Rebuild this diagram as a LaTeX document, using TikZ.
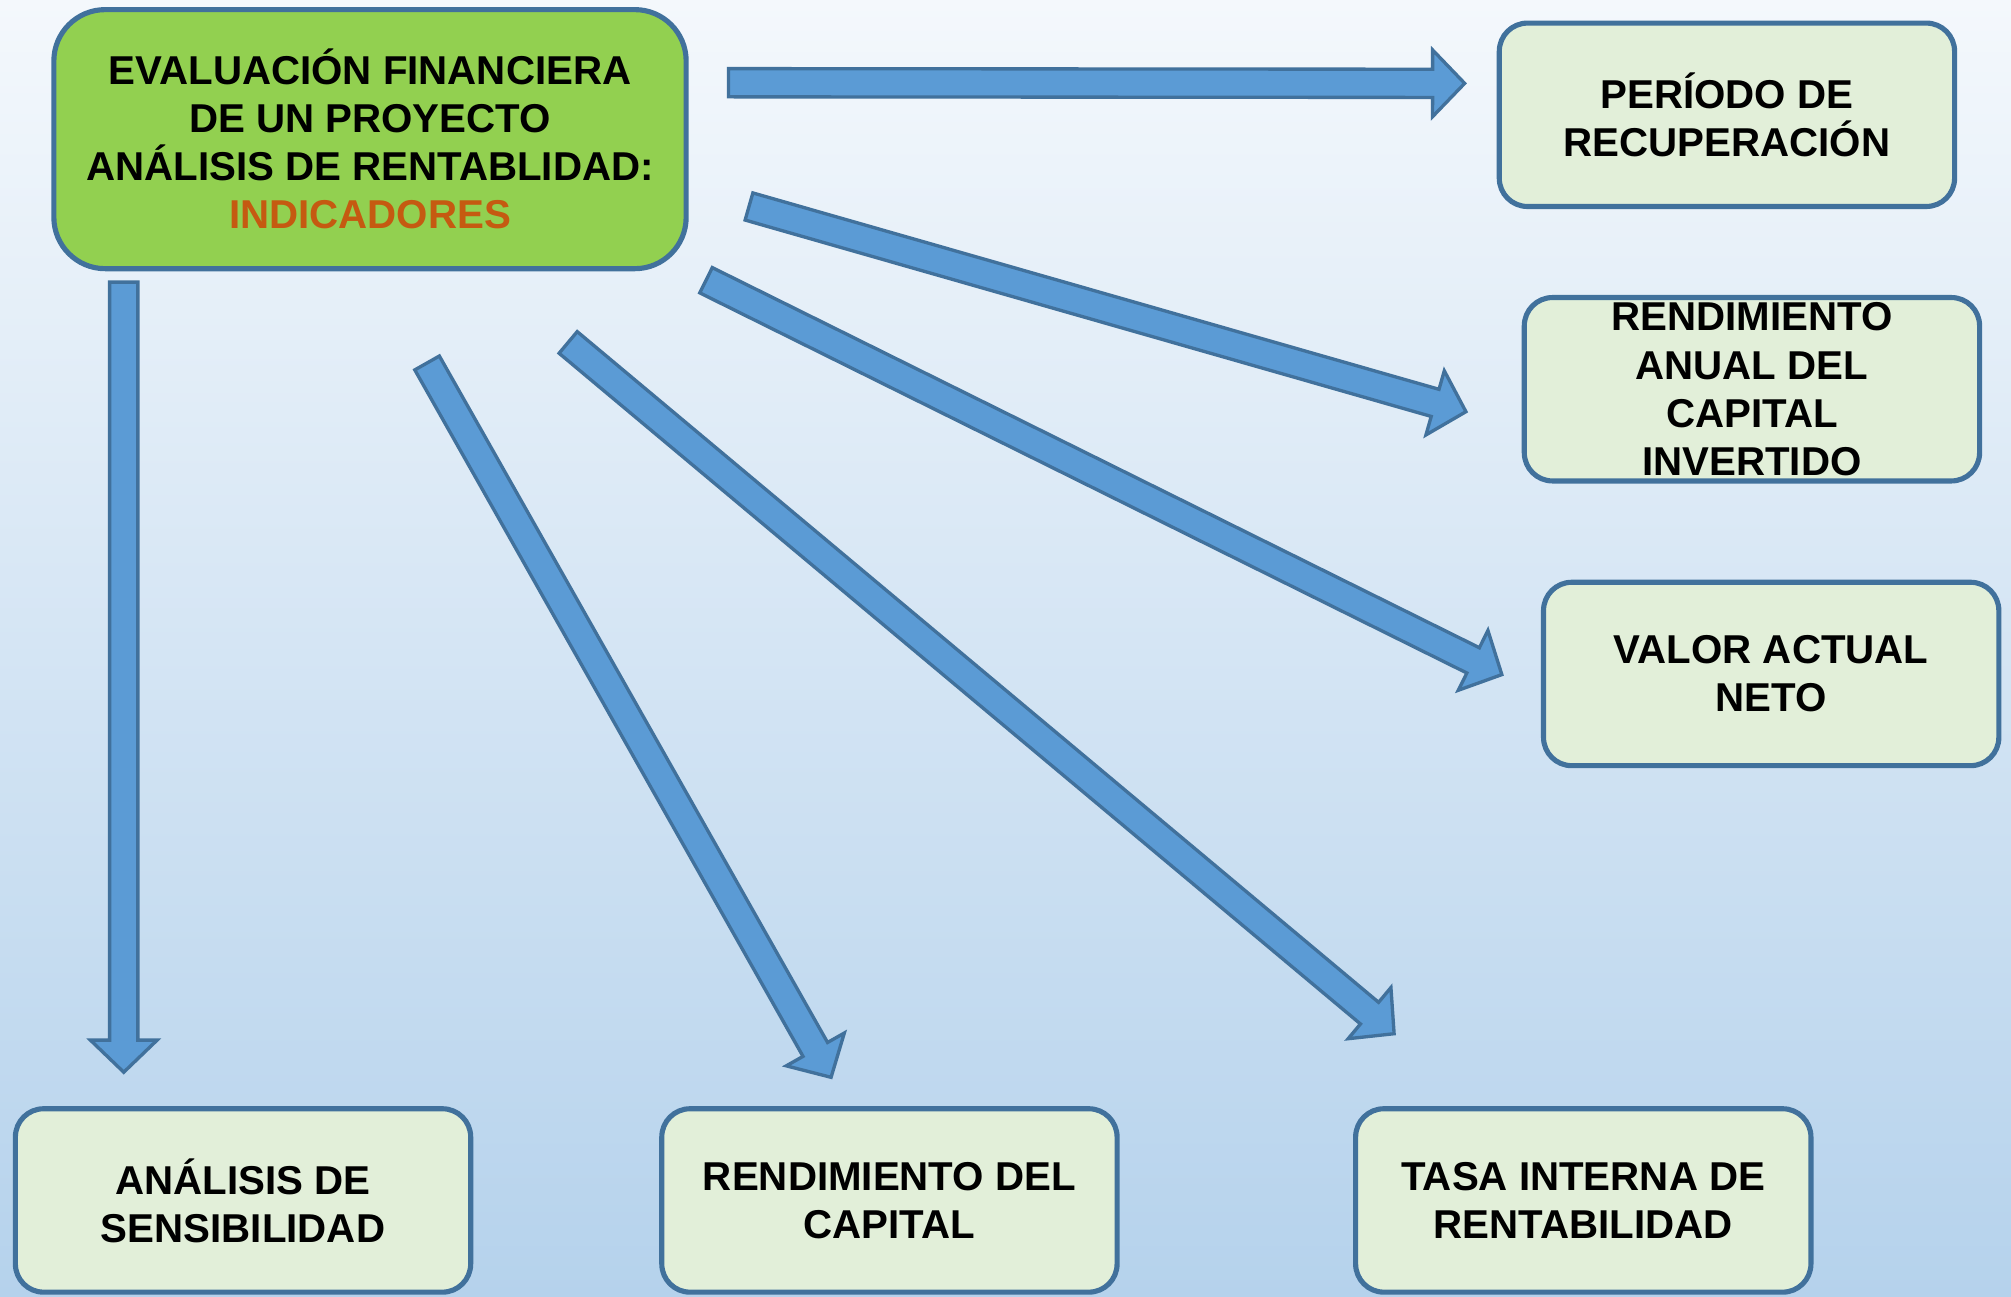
\documentclass[tikz,border=0pt]{standalone}
\usepackage{fontspec}
\setmainfont{Liberation Sans}
\usetikzlibrary{calc}
\definecolor{bgtop}{HTML}{F4F8FC}
\definecolor{bgbot}{HTML}{B5D2EC}
\definecolor{maingreen}{HTML}{92D050}
\definecolor{leafgreen}{HTML}{E2EFD9}
\definecolor{bordc}{HTML}{41719C}
\definecolor{arrfill}{HTML}{5B9BD5}
\definecolor{indic}{HTML}{C55A11}
\tikzset{
  boxtext/.style={font=\fontsize{31.4}{37.5}\selectfont\bfseries, text=black, align=center},
  mainbox/.style={boxtext, draw=bordc, fill=maingreen, line width=4pt, rounded corners=40pt,
    minimum width=493pt, minimum height=202pt, inner sep=0pt},
  leafbox/.style={boxtext, draw=bordc, fill=leafgreen, line width=4pt, rounded corners=22pt,
    minimum width=355pt, minimum height=143pt, inner sep=0pt},
  blkarrow/.style={draw=bordc, fill=arrfill, line width=2.6pt, line join=miter},
}
\newcommand\blkarrow[2]{%
  \coordinate (ba-c) at ($(#2)!25pt!(#1)$);
  \filldraw[blkarrow] ($(#1)!11pt!90:(#2)$) -- ($(ba-c)!11pt!-90:(#1)$) -- ($(ba-c)!26pt!-90:(#1)$)
    -- (#2) -- ($(ba-c)!26pt!90:(#1)$) -- ($(ba-c)!11pt!90:(#1)$) -- ($(#1)!11pt!-90:(#2)$) -- cycle;}
\begin{document}
\begin{tikzpicture}[x=1pt,y=-1pt]
  \useasboundingbox (0,0) rectangle (1568,1011);
  \shade[top color=bgtop, bottom color=bgbot] (0,0) rectangle (1568,1011);

  \node[mainbox] (main) at (288.5,108.5) {EVALUACIÓN FINANCIERA\\DE UN PROYECTO\\ANÁLISIS DE RENTABLIDAD:\\\textcolor{indic}{INDICADORES}};

  \node[leafbox] (periodo) at (1346.5,89.5) {PERÍODO DE\\RECUPERACIÓN};
  \node[leafbox] (rac) at (1366,303.5) {RENDIMIENTO\\ANUAL DEL\\CAPITAL\\INVERTIDO};
  \node[leafbox] (van) at (1381,525.5) {VALOR ACTUAL\\NETO};
  \node[leafbox] (sens) at (189.5,936) {ANÁLISIS DE\\SENSIBILIDAD};
  \node[leafbox] (rc) at (693.5,936) {RENDIMIENTO DEL\\CAPITAL};
  \node[leafbox] (tir) at (1234.5,936) {TASA INTERNA DE\\RENTABILIDAD};

  % arrow tails and tips
  \coordinate (t1) at (568,64.5);  \coordinate (h1) at (1142,65);
  \coordinate (t2) at (584,161);   \coordinate (h2) at (1143,321);
  \coordinate (t3) at (550.5,218.5); \coordinate (h3) at (1171,526);
  \coordinate (t4) at (443,267);   \coordinate (h4) at (1087,806);
  \coordinate (t5) at (333,283);   \coordinate (h5) at (648,840);
  \coordinate (t6) at (96.5,220);  \coordinate (h6) at (96.5,836);

  \blkarrow{t1}{h1}
  \blkarrow{t2}{h2}
  \blkarrow{t3}{h3}
  \blkarrow{t4}{h4}
  \blkarrow{t5}{h5}
  \blkarrow{t6}{h6}
\end{tikzpicture}
\end{document}
